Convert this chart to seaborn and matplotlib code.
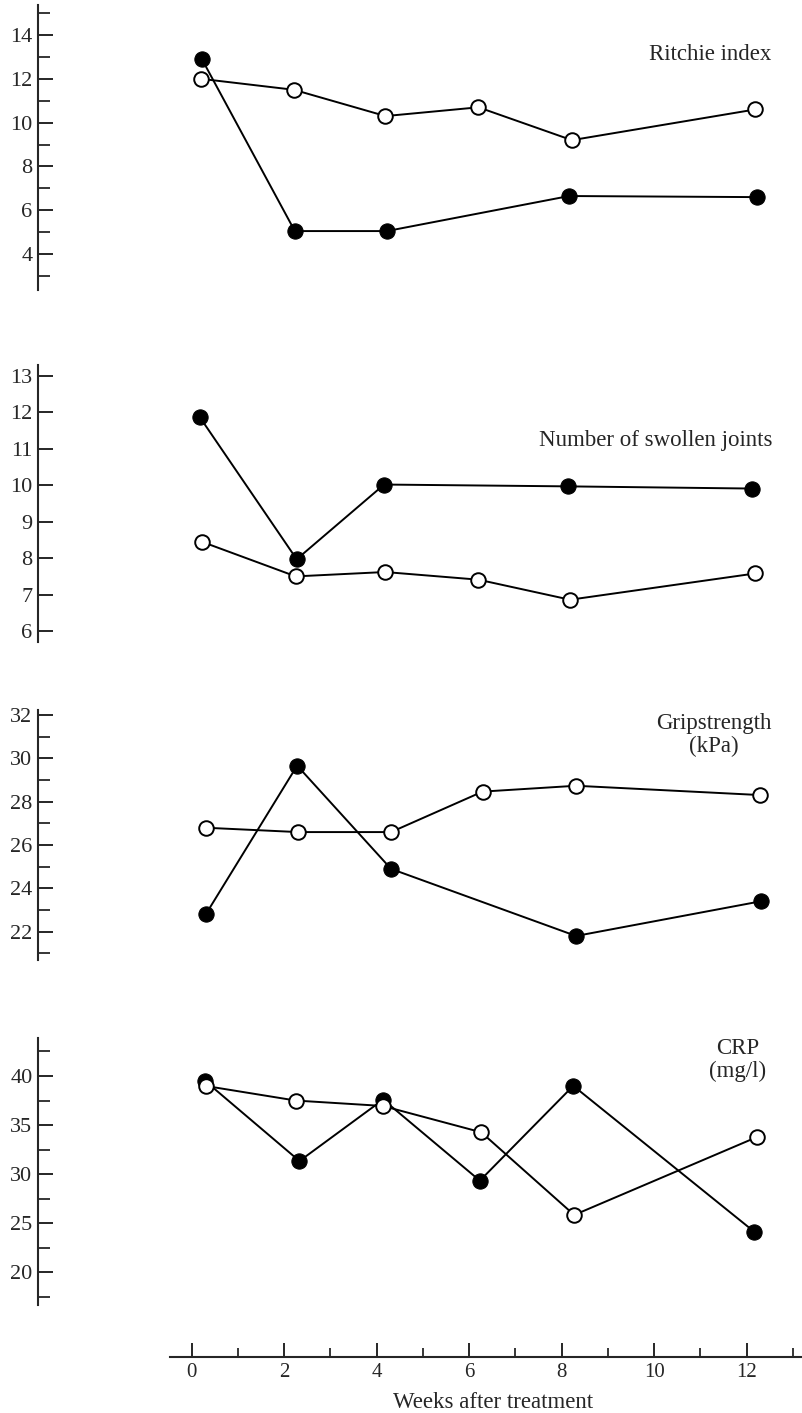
import seaborn as sns
import matplotlib.pyplot as plt
from matplotlib.ticker import MultipleLocator, FixedLocator

# values; two groups, open = o, filled = f
ritchie_wk_o = [0.2, 2.21, 4.19, 6.2, 8.22, 12.18]
ritchie_o = [12.0, 11.5, 10.3, 10.7, 9.2, 10.6]
ritchie_wk_f = [0.22, 2.23, 4.22, 8.16, 12.22]
ritchie_f = [12.9, 5.05, 5.05, 6.65, 6.6]

joints_wk_o = [0.22, 2.25, 4.18, 6.2, 8.18, 12.18]
joints_o = [8.45, 7.5, 7.62, 7.41, 6.86, 7.58]
joints_wk_f = [0.18, 2.27, 4.16, 8.14, 12.12]
joints_f = [11.86, 7.97, 10.02, 9.97, 9.91]

grip_wk_o = [0.31, 2.3, 4.31, 6.29, 8.31, 12.29]
grip_o = [26.8, 26.6, 26.6, 28.47, 28.74, 28.31]
grip_wk_f = [0.31, 2.28, 4.31, 8.31, 12.3]
grip_f = [22.82, 29.67, 24.9, 21.8, 23.4]

crp_wk_o = [0.31, 2.25, 4.13, 6.26, 8.27, 12.23]
crp_o = [38.98, 37.5, 36.95, 34.27, 25.85, 33.8]
crp_wk_f = [0.29, 2.33, 4.14, 6.23, 8.25, 12.16]
crp_f = [39.5, 31.34, 37.6, 29.34, 39.0, 24.15]

week_ticks = [0, 2, 4, 6, 8, 10, 12]
week_minor = [1, 3, 5, 7, 9, 11, 13]

W, H = 803, 1413
sns.set_style("ticks")
plt.rcParams['font.family'] = ['Liberation Serif', 'DejaVu Serif']


def add_axes(fig, top, bottom, left=38, right=803):
    return fig.add_axes([left / W, 1 - bottom / H, (right - left) / W, (bottom - top) / H])


def draw_panel(ax, wk_f, val_f, wk_o, val_o):
    sns.lineplot(x=wk_f, y=val_f, ax=ax, color='black', lw=1.4, marker='o',
                 markersize=11, markerfacecolor='black', markeredgecolor='black',
                 sort=False)
    sns.lineplot(x=wk_o, y=val_o, ax=ax, color='black', lw=1.4, marker='o',
                 markersize=10.5, markerfacecolor='white', markeredgecolor='black',
                 markeredgewidth=1.4, sort=False)
    ax.set_xlim(-3.323, 13.217)
    for s in ['top', 'right', 'bottom']:
        ax.spines[s].set_visible(False)
    ax.spines['left'].set_linewidth(1.5)
    ax.tick_params(axis='x', bottom=False, labelbottom=False)
    ax.tick_params(axis='y', which='major', direction='in', length=11, width=1.4,
                   labelsize=16, pad=4)
    ax.tick_params(axis='y', which='minor', direction='in', length=8.5, width=1.3)
    ax.set_xlabel('')
    ax.set_ylabel('')


fig = plt.figure(figsize=(W / 100, H / 100), dpi=100)

ax1 = add_axes(fig, 5, 290)
draw_panel(ax1, ritchie_wk_f, ritchie_f, ritchie_wk_o, ritchie_o)
ax1.set_ylim(2.36, 15.37)
ax1.yaxis.set_major_locator(MultipleLocator(2))
ax1.yaxis.set_minor_locator(MultipleLocator(1))

ax2 = add_axes(fig, 365, 642)
draw_panel(ax2, joints_wk_f, joints_f, joints_wk_o, joints_o)
ax2.set_ylim(5.7, 13.3)
ax2.yaxis.set_major_locator(MultipleLocator(1))

ax3 = add_axes(fig, 710, 960)
draw_panel(ax3, grip_wk_f, grip_f, grip_wk_o, grip_o)
ax3.set_ylim(20.69, 32.24)
ax3.yaxis.set_major_locator(MultipleLocator(2))
ax3.yaxis.set_minor_locator(MultipleLocator(1))

ax4 = add_axes(fig, 1038, 1305)
draw_panel(ax4, crp_wk_f, crp_f, crp_wk_o, crp_o)
ax4.set_ylim(16.68, 43.87)
ax4.yaxis.set_major_locator(MultipleLocator(5))
ax4.yaxis.set_minor_locator(MultipleLocator(2.5))

# shared week axis, drawn as the bottom spine of the last panel pushed down
ax4.spines['bottom'].set_visible(True)
ax4.spines['bottom'].set_position(('outward', 52 * 72 / 100))
ax4.spines['bottom'].set_bounds(-0.47, 13.217)
ax4.spines['bottom'].set_linewidth(1.5)
ax4.xaxis.set_major_locator(FixedLocator(week_ticks))
ax4.xaxis.set_minor_locator(FixedLocator(week_minor))
ax4.tick_params(axis='x', which='major', bottom=True, labelbottom=True, direction='in',
                length=10, width=1.4, labelsize=15, pad=4)
ax4.tick_params(axis='x', which='minor', bottom=True, direction='in', length=6.5, width=1.3)

fig.text(493 / W, 1 - 1402 / H, 'Weeks after treatment', ha='center', va='center', fontsize=16.5)

# panel titles
fig.text(710 / W, 1 - 55 / H, 'Ritchie index', ha='center', va='center', fontsize=16.5)
fig.text(773 / W, 1 - 440 / H, 'Number of swollen joints', ha='right', va='center', fontsize=16.5)
fig.text(714 / W, 1 - 735 / H, 'Gripstrength\n(kPa)', ha='center', va='center',
         fontsize=16.5, linespacing=1.15)
fig.text(738 / W, 1 - 1060 / H, 'CRP\n(mg/l)', ha='center', va='center',
         fontsize=16.5, linespacing=1.15)

fig.savefig('out.png', dpi=100)
